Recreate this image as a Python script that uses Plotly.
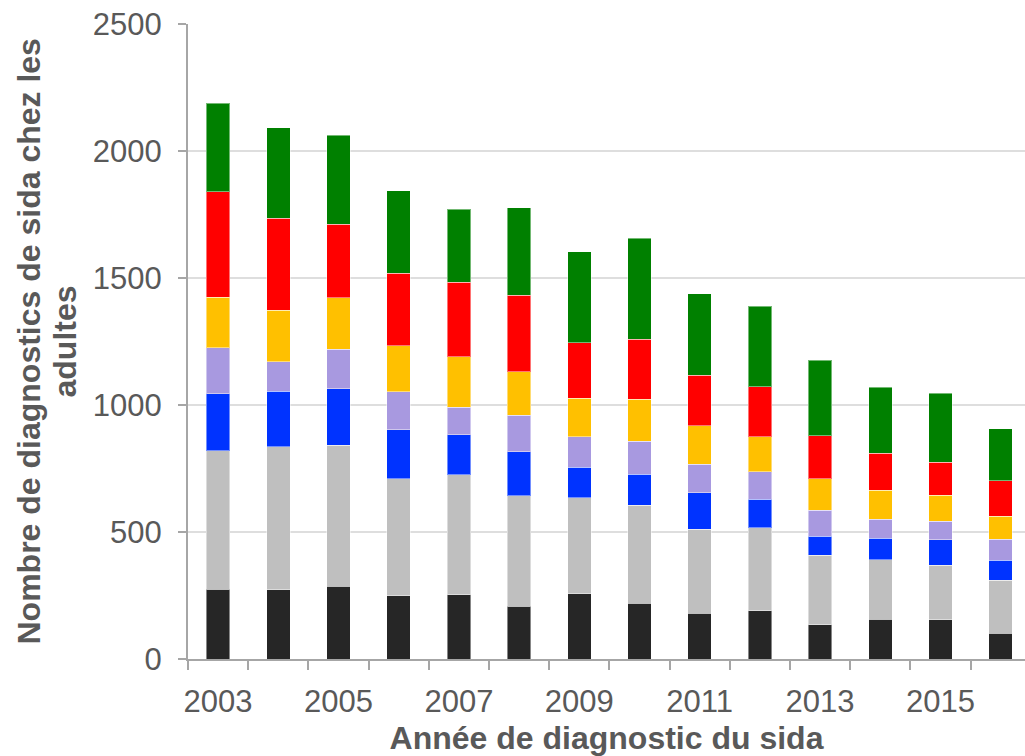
import plotly.graph_objects as go

# Année de diagnostic
years = [2003, 2004, 2005, 2006, 2007, 2008, 2009, 2010,
         2011, 2012, 2013, 2014, 2015, 2016]

# Nombre de diagnostics par groupe (empilés de bas en haut)
groupe_1 = [274, 272, 287, 249, 253, 207, 256, 220, 181, 190, 135, 156, 154, 102]
groupe_2 = [545, 563, 554, 460, 473, 436, 378, 385, 330, 327, 274, 235, 215, 209]
groupe_3 = [226, 219, 223, 193, 157, 172, 121, 122, 143, 112, 75, 85, 100, 78]
groupe_4 = [181, 117, 155, 150, 109, 144, 120, 131, 113, 108, 101, 75, 73, 83]
groupe_5 = [199, 203, 203, 181, 198, 171, 151, 164, 152, 138, 124, 114, 102, 90]
groupe_6 = [415, 361, 289, 285, 294, 303, 219, 237, 198, 197, 169, 145, 130, 140]
groupe_7 = [348, 357, 351, 325, 286, 344, 359, 397, 321, 317, 298, 260, 272, 204]

series = [
    ("Groupe 1", groupe_1, "#262626"),
    ("Groupe 2", groupe_2, "#BFBFBF"),
    ("Groupe 3", groupe_3, "#0033FF"),
    ("Groupe 4", groupe_4, "#A899E0"),
    ("Groupe 5", groupe_5, "#FFC000"),
    ("Groupe 6", groupe_6, "#FF0000"),
    ("Groupe 7", groupe_7, "#008000"),
]

y_ticks = [0, 500, 1000, 1500, 2000, 2500]
x_label_years = [2003, 2005, 2007, 2009, 2011, 2013, 2015]

fig = go.Figure()
for name, values, color in series:
    fig.add_trace(go.Bar(
        x=years, y=values, name=name, width=0.39,
        marker=dict(color=color, line=dict(color="rgba(255,255,255,0.45)", width=1)),
    ))

axis_grey = "#A6A6A6"
text_grey = "#595959"

fig.update_layout(
    barmode="stack",
    width=1025, height=756,
    margin=dict(l=188, r=0, t=24, b=97),
    paper_bgcolor="white", plot_bgcolor="white",
    showlegend=False,
    font=dict(family="Liberation Sans, Arial, sans-serif", color=text_grey),
    xaxis=dict(
        range=[2002.5, 2016.404],
        tickvals=x_label_years,
        ticktext=[str(y) for y in x_label_years],
        ticks="", tickfont=dict(size=31, color=text_grey),
        ticklabelstandoff=14,
        showline=True, linecolor=axis_grey, linewidth=2,
        showgrid=False, zeroline=False,
        minor=dict(
            tickvals=[y - 0.5 for y in years] + [years[-1] + 0.5],
            ticks="outside", ticklen=9, tickwidth=2, tickcolor=axis_grey,
            showgrid=False,
        ),
        title=dict(text="<b>Année de diagnostic du sida</b>",
                   font=dict(size=32, color=text_grey), standoff=8),
    ),
    yaxis=dict(
        range=[0, 2500],
        tickvals=y_ticks,
        ticks="outside", ticklen=8, tickwidth=2, tickcolor=axis_grey,
        tickfont=dict(size=31, color=text_grey),
        ticklabelstandoff=10,
        showline=True, linecolor=axis_grey, linewidth=2,
        showgrid=True, gridcolor="#DEDEDE", gridwidth=2,
        zeroline=False,
    ),
)

# Titre de l'axe vertical sur deux lignes
fig.add_annotation(
    text="<b>Nombre de diagnostics de sida chez les</b>",
    xref="paper", yref="paper", x=-188 / 837 + 28 / 837, y=0.5,
    textangle=-90, showarrow=False, xanchor="center", yanchor="middle",
    font=dict(size=32, color=text_grey),
)
fig.add_annotation(
    text="<b>adultes</b>",
    xref="paper", yref="paper", x=-188 / 837 + 64 / 837, y=0.5,
    textangle=-90, showarrow=False, xanchor="center", yanchor="middle",
    font=dict(size=32, color=text_grey),
)

fig.write_html("out.html")
